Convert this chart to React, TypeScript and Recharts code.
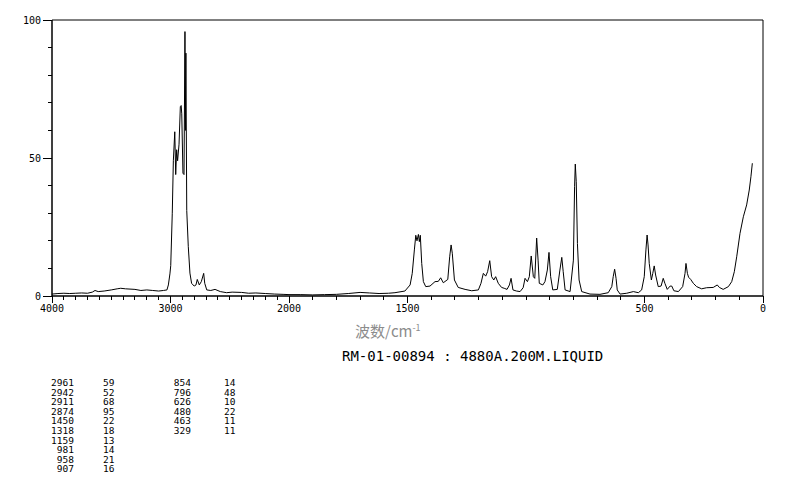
import { LineChart, Line, XAxis, YAxis, ReferenceArea } from 'recharts';

// spectrum, descending wavenumber (cm-1) / relative intensity
const WAVENUMBERS = [
  4000, 3950, 3900, 3850, 3800, 3750, 3700, 3660, 3637, 3610, 3560, 3500, 3450, 3420, 3380, 3300,
  3250, 3200, 3150, 3100, 3060, 3030, 3018, 3005, 2998, 2985, 2976, 2964, 2956, 2948, 2940, 2928,
  2917, 2910, 2905, 2895, 2886, 2878, 2874, 2870, 2863, 2850, 2836, 2822, 2800, 2785, 2774, 2757,
  2740, 2720, 2711, 2694, 2660, 2624, 2580, 2526, 2480, 2400, 2340, 2280, 2200, 2120, 2050, 2000,
  1950, 1900, 1850, 1800, 1750, 1700, 1660, 1620, 1580, 1553, 1511, 1489, 1480, 1471, 1465, 1460,
  1454, 1450, 1446, 1440, 1433, 1423, 1405, 1384, 1370, 1360, 1349, 1330, 1322, 1316, 1311, 1302,
  1286, 1257, 1229, 1201, 1190, 1180, 1170, 1162, 1153, 1145, 1136, 1128, 1117, 1103, 1092, 1080,
  1070, 1063, 1055, 1040, 1025, 1012, 1004, 994, 986, 978, 969, 963, 955, 949, 944, 929,
  920, 910, 903, 896, 887, 868, 857, 849, 843, 835, 814, 800, 795, 792, 788, 783,
  776, 765, 730, 688, 653, 638, 632, 626, 620, 615, 603, 575, 547, 526, 512, 501,
  494, 489, 485, 480, 471, 465, 459, 453, 442, 430, 421, 414, 404, 392, 385, 376,
  357, 339, 329, 325, 319, 314, 305, 294, 280, 259, 238, 210, 193, 184, 168, 146,
  132, 121, 111, 97, 83, 69, 58, 51, 45,
];
const INTENSITY = [
  0.7, 0.9, 1.0, 0.9, 1.0, 1.1, 1.0, 1.4, 2.0, 1.6, 1.8, 2.2, 2.6, 2.8, 2.6, 2.4,
  2.0, 2.2, 2.0, 1.8, 2.0, 2.2, 4, 8, 11, 30, 49, 59.5, 44, 53, 49, 55,
  68.6, 69, 66, 44.5, 44, 95.8, 60, 88, 31, 18, 8.3, 4.6, 3.6, 4, 6, 4,
  5.2, 8.2, 4.6, 2.2, 2.0, 2.4, 1.6, 1.2, 1.4, 1.3, 1.0, 1.1, 0.9, 0.7, 0.6, 0.5,
  0.5, 0.4, 0.5, 0.6, 0.9, 1.3, 1.1, 0.9, 1.0, 1.2, 1.8, 4, 8.2, 16.7, 22, 20,
  22.3, 19.7, 22, 11.8, 5.2, 3.4, 3.6, 5.2, 5.3, 6.6, 4.8, 6, 14.2, 18.5, 15.5, 5.8,
  3.1, 2.4, 1.9, 2.2, 4.6, 8.2, 7.2, 8.8, 12.8, 7, 5.8, 7, 4.6, 3.1, 2.8, 2.4,
  4, 6.4, 2.2, 1.8, 1.6, 3, 6.4, 5.2, 7, 14.5, 7, 6.4, 21, 13, 4.6, 4,
  5.2, 9.4, 15.8, 7, 2.2, 2.4, 9.4, 14, 8.8, 2.2, 1.6, 13, 39.6, 47.8, 41.4, 19,
  5.8, 1.6, 0.7, 0.6, 1.2, 3.4, 7, 9.7, 6.4, 2.2, 0.7, 1.0, 1.6, 1.2, 2.2, 7,
  16.7, 22.1, 18.5, 11.8, 5.8, 8.2, 10.9, 7.6, 3.4, 3.6, 6.4, 4.6, 2.4, 3.6, 3.6, 1.9,
  1.6, 3.4, 8.2, 11.8, 8.2, 6.8, 6, 4.6, 3.4, 2.6, 3.0, 3.1, 4, 3.1, 2.4, 3.4,
  5.2, 8.8, 14.2, 22.7, 28.7, 33, 38.4, 43.2, 48.1,
];

// peak table printed under the chart
const PEAK_WN_LEFT = ['2961', '2942', '2911', '2874', '1450', '1318', '1159', '981', '958', '907'];
const PEAK_INT_LEFT = ['59', '52', '68', '95', '22', '18', '13', '14', '21', '16'];
const PEAK_WN_RIGHT = ['854', '796', '626', '480', '463', '329'];
const PEAK_INT_RIGHT = ['14', '48', '10', '22', '11', '11'];

const X_LABELS = [4000, 3000, 2000, 1500, 500, 0];
const Y_LABELS = [0, 50, 100];

// the instrument axis is squeezed 2:1 above 2000 cm-1
const toAxis = (w: number) => (w <= 2000 ? w : 2000 + (w - 2000) / 2);
const fromAxis = (u: number) => (u <= 2000 ? u : 2000 + (u - 2000) * 2);

const data = WAVENUMBERS.map((w, i) => ({ u: toAxis(w), v: INTENSITY[i] }));

const xTicks: number[] = [];
for (let u = 0; u < 2000; u += 100) xTicks.push(u);
for (let u = 2000; u <= 3000; u += 50) xTicks.push(u);
const yTicks = [0, 10, 20, 30, 40, 50, 60, 70, 80, 90, 100];

const MONO = '"DejaVu Sans Mono", "Liberation Mono", monospace';

function XTick({ x, y, payload }: any) {
  const wn = Math.round(fromAxis(payload.value));
  const major = X_LABELS.includes(wn);
  return (
    <g>
      <line x1={x} y1={y} x2={x} y2={y + (major ? 7 : 4)} stroke="#000" shapeRendering="crispEdges" />
      {major && (
        <text x={x} y={y + 16} textAnchor="middle" fontSize={10} fontFamily={MONO} fill="#000">
          {wn}
        </text>
      )}
    </g>
  );
}

function YTick({ x, y, payload }: any) {
  const major = Y_LABELS.includes(payload.value);
  return (
    <g>
      <line x1={x} y1={y} x2={x - (major ? 9 : 4)} y2={y} stroke="#000" shapeRendering="crispEdges" />
      {major && (
        <text x={x - 11} y={y + 3.5} textAnchor="end" fontSize={10} fontFamily={MONO} fill="#000">
          {payload.value}
        </text>
      )}
    </g>
  );
}

export default function App() {
  const rowH = 9.6;
  return (
    <div style={{ position: 'absolute', left: 0, top: 0, width: 794, height: 482, background: '#fff' }}>
      <LineChart width={794} height={330} data={data} margin={{ top: 20, right: 31, left: 12, bottom: 4 }}>
        <XAxis
          dataKey="u"
          type="number"
          domain={[0, 3000]}
          reversed
          ticks={xTicks}
          interval={0}
          tickSize={0}
          tickMargin={0}
          height={30}
          axisLine={{ stroke: '#000' }}
          tickLine={false}
          tick={(p: any) => <XTick {...p} />}
        />
        <YAxis
          type="number"
          domain={[0, 100]}
          ticks={yTicks}
          interval={0}
          tickSize={0}
          tickMargin={0}
          width={40}
          axisLine={{ stroke: '#000' }}
          tickLine={false}
          tick={(p: any) => <YTick {...p} />}
        />
        <ReferenceArea x1={0} x2={3000} y1={0} y2={100} stroke="#000" fill="none" fillOpacity={0} />
        <Line
          dataKey="v"
          type="linear"
          stroke="#000"
          strokeWidth={1}
          dot={false}
          isAnimationActive={false}
        />
      </LineChart>

      <div
        style={{
          position: 'absolute', left: 355, top: 320, fontSize: 15, color: '#8c8c8c',
          fontFamily: '"Noto Sans CJK SC", sans-serif', whiteSpace: 'nowrap',
        }}
      >
        波数/cm<sup style={{ fontSize: 9 }}>-1</sup>
      </div>
      <div
        style={{
          position: 'absolute', left: 342, top: 348, fontSize: 14, color: '#000',
          fontFamily: MONO, whiteSpace: 'pre',
        }}
      >
        RM-01-00894 : 4880A.200M.LIQUID
      </div>

      <div style={{ position: 'absolute', left: 0, top: 378, fontFamily: MONO, fontSize: 9.5, color: '#000' }}>
        {PEAK_WN_LEFT.map((w, i) => (
          <div key={w} style={{ position: 'absolute', top: i * rowH, left: 0, width: 794, height: rowH, lineHeight: `${rowH}px` }}>
            <span style={{ position: 'absolute', right: 794 - 74, textAlign: 'right' }}>{w}</span>
            <span style={{ position: 'absolute', left: 103 }}>{PEAK_INT_LEFT[i]}</span>
            {i < PEAK_WN_RIGHT.length && (
              <>
                <span style={{ position: 'absolute', right: 794 - 191, textAlign: 'right' }}>{PEAK_WN_RIGHT[i]}</span>
                <span style={{ position: 'absolute', left: 224 }}>{PEAK_INT_RIGHT[i]}</span>
              </>
            )}
          </div>
        ))}
      </div>
    </div>
  );
}
